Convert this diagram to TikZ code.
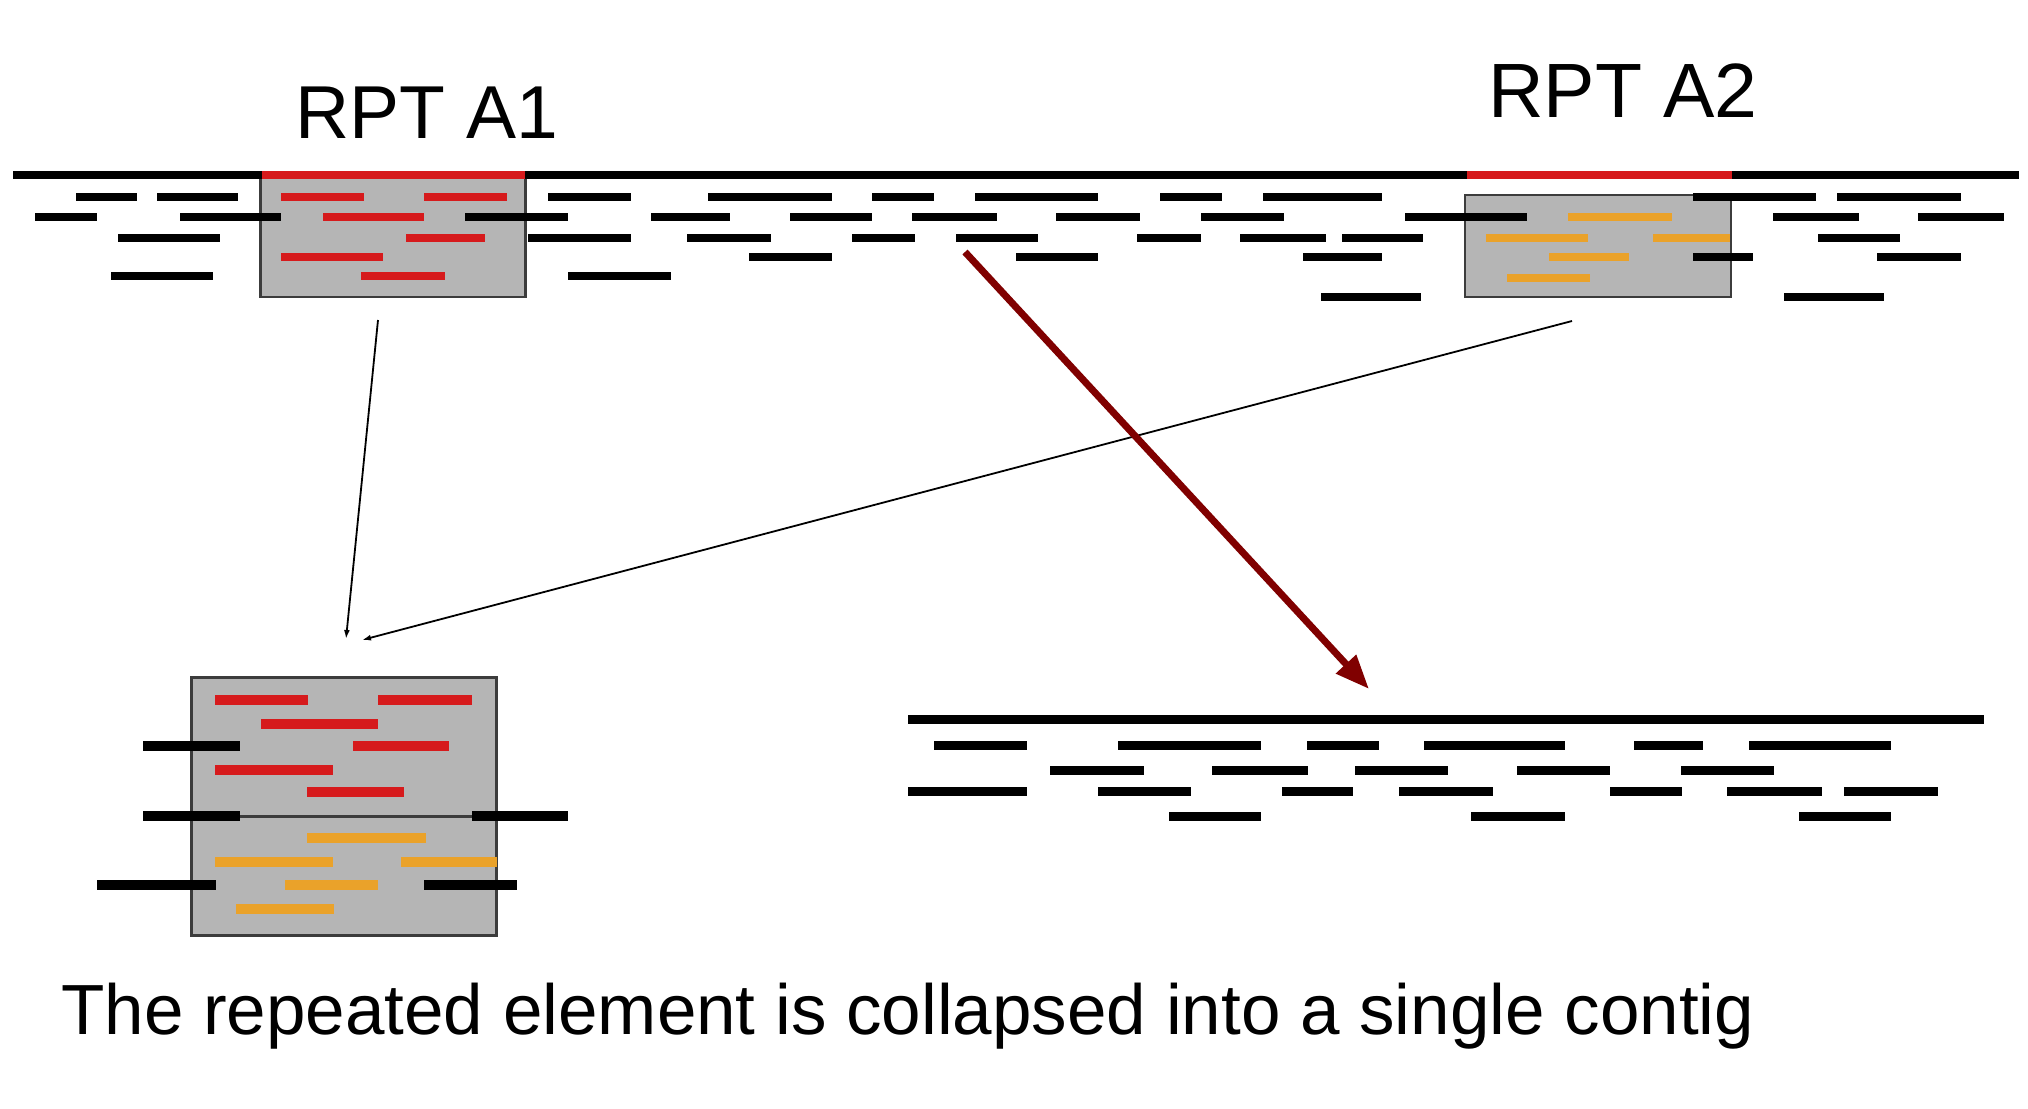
\documentclass[tikz,border=0pt]{standalone}
\usepackage{fontspec}
\setmainfont{Liberation Sans}
\usetikzlibrary{arrows.meta}
\definecolor{rdc}{RGB}{214,26,28}
\definecolor{orc}{RGB}{234,162,42}
\definecolor{boxfill}{RGB}{181,181,181}
\definecolor{boxline}{RGB}{60,60,60}
\definecolor{darkred}{RGB}{128,0,0}
\begin{document}
\begin{tikzpicture}[x=1pt,y=-1pt,
  rdk/.style={line width=8.8pt,black},
  rdr/.style={line width=8.8pt,rdc},
  rdo/.style={line width=8.8pt,orc},
  rptbox/.style={draw=boxline,fill=boxfill,line width=2.2pt,inner sep=0pt,minimum width=#1},
  lbl/.style={inner sep=0pt,font=\fontsize{75}{80}\selectfont},
  thinarrow/.style={line width=1.8pt,-{Latex[length=9pt,width=6pt]}},
  bigarrow/.style={line width=7pt,darkred,-{Triangle[length=34pt,width=26pt]}}
]
\useasboundingbox (0,0) rectangle (2028,1108);

% ---- boxes (drawn first, reads lie on top)
\node[rptbox=265pt,minimum height=120pt] (boxA1) at (393,237) {};
\node[rptbox=266pt,minimum height=102pt] (boxA2) at (1598,246) {};
\node[rptbox=305pt,minimum height=139pt,line width=3pt] (boxBt) at (344,746.5) {};
\node[rptbox=305pt,minimum height=119pt,line width=3pt] (boxBb) at (344,875.5) {};
\draw[boxline,line width=1.5pt] (boxBt.south west) -- (boxBt.south east);

% ---- labels
\node[lbl,anchor=base] (lA1) at (427,138) {RPT A1};
\node[lbl,anchor=base,font=\fontsize{77}{80}\selectfont] (lA2) at (1623,117) {RPT A2};
\node[inner sep=0pt,anchor=base west,font=\fontsize{71}{74}\selectfont] (caption) at (61,1034)
  {The repeated element is collapsed into a single contig};

% ---- genome line (top)
\draw[rdk] (13,175) -- (2019,175);
\draw[rdr] (262,175) -- (525,175);
\draw[rdr] (1467,175) -- (1732,175);

% ---- top reads, black
\foreach \y/\a/\b in {
  197/76/137, 197/157/238, 197/548/631, 197/708/832, 197/872/934, 197/975/1098,
  197/1160/1222, 197/1263/1382, 197/1693/1816, 197/1837/1961,
  217/35/97, 217/180/281, 217/465/568, 217/651/730, 217/790/872, 217/912/997,
  217/1056/1140, 217/1201/1284, 217/1405/1527, 217/1773/1859, 217/1918/2004,
  238/118/220, 238/528/631, 238/687/771, 238/852/915, 238/956/1038,
  238/1137/1201, 238/1240/1326, 238/1342/1423, 238/1818/1900,
  257/749/832, 257/1016/1098, 257/1303/1382, 257/1693/1753, 257/1877/1961,
  276/111/213, 276/568/671,
  297/1321/1421, 297/1784/1884}
  \draw[rdk] (\a,\y) -- (\b,\y);
% top reads, red (repeat copy A1)
\foreach \y/\a/\b in {197/281/364, 197/424/507, 217/323/424, 238/406/485,
  257/281/383, 276/361/445}
  \draw[rdr] (\a,\y) -- (\b,\y);
% top reads, orange (repeat copy A2)
\foreach \y/\a/\b in {217/1568/1672, 238/1486/1588, 238/1653/1730,
  257/1549/1629, 278/1507/1590}
  \draw[rdo] (\a,\y) -- (\b,\y);

% ---- collapsed repeat box (bottom left)
\foreach \y/\a/\b in {700/215/308, 700/378/472, 724/261/378, 746/353/449,
  770/215/333, 792/307/404}
  \draw[rdr,line width=9.5pt] (\a,\y) -- (\b,\y);
\foreach \y/\a/\b in {838/307/426, 862/215/333, 862/401/497, 885/285/378, 909/236/334}
  \draw[rdo,line width=9.5pt] (\a,\y) -- (\b,\y);
\foreach \y/\a/\b in {746/143/240, 816/143/240, 816/472/568, 885/97/216, 885/424/517}
  \draw[rdk,line width=9.5pt] (\a,\y) -- (\b,\y);

% ---- collapsed contig (bottom right)
\draw[rdk,line width=9pt] (908,719) -- (1984,719);
\foreach \y/\a/\b in {
  745/934/1027, 745/1118/1261, 745/1307/1379, 745/1424/1565, 745/1634/1703, 745/1749/1891,
  770/1050/1144, 770/1212/1308, 770/1355/1448, 770/1517/1610, 770/1681/1774,
  791/908/1027, 791/1098/1191, 791/1282/1353, 791/1399/1493, 791/1610/1682, 791/1727/1822, 791/1844/1938,
  816/1169/1261, 816/1471/1565, 816/1799/1891}
  \draw[rdk,line width=9pt] (\a,\y) -- (\b,\y);

% ---- connectors
\coordinate (a1s) at (378,320);
\coordinate (a1e) at (346,639);
\coordinate (a2s) at (1572,321);
\coordinate (a2e) at (362,640);
\coordinate (ms) at (965,252);
\coordinate (me) at (1369,689);
\draw[thinarrow] (a1s) -- (a1e);
\draw[thinarrow] (a2s) -- (a2e);
\draw[bigarrow] (ms) -- (me);
\end{tikzpicture}
\end{document}
